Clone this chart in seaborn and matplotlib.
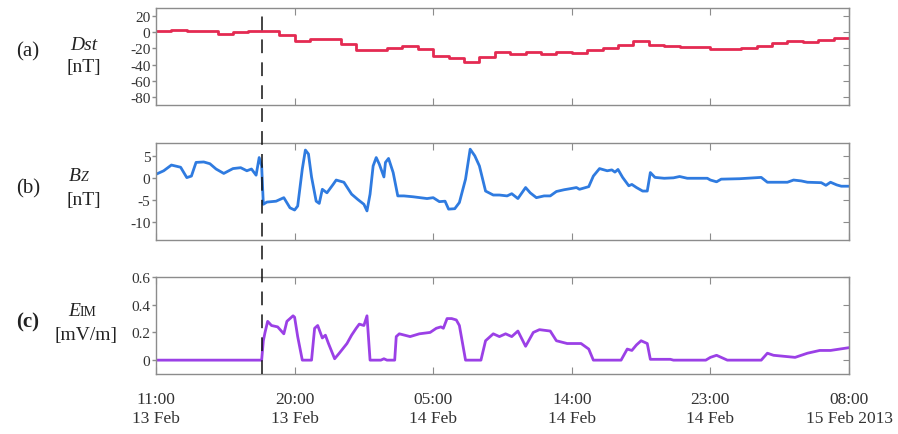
import matplotlib
matplotlib.use("Agg")
import matplotlib.pyplot as plt
import matplotlib.transforms as mtransforms
from matplotlib.lines import Line2D
import seaborn as sns
import pandas as pd

# Hours after 11:00 UT, 13 Feb 2013
dst_hours = list(range(0, 46))
dst = [2, 3, 1, 1, -2, 0, 2, 2, -4, -11, -8, -8, -15, -22, -22, -19, -17, -21,
       -29, -32, -37, -30, -24, -27, -24, -27, -25, -26, -22, -19, -16, -11,
       -16, -17, -18, -18, -21, -21, -19, -17, -13, -11, -12, -9, -7, -7]

bz_hours = [0, 0.5, 1.0, 1.6, 2.0, 2.3, 2.6, 3.1, 3.5, 3.9,
            4.4, 5.0, 5.5, 5.9, 6.2, 6.5, 6.7, 6.86, 6.97, 7.2,
            7.8, 8.3, 8.7, 9.0, 9.2, 9.5, 9.7, 9.9, 10.1, 10.4,
            10.6, 10.8, 11.1, 11.5, 11.7, 12.2, 12.7, 13.1, 13.5, 13.7,
            13.9, 14.1, 14.3, 14.5, 14.8, 14.9, 15.1, 15.4, 15.7, 16.1,
            16.7, 17.6, 18.0, 18.4, 18.77, 19.0, 19.4, 19.7, 20.1, 20.4,
            20.7, 21.0, 21.4, 21.9, 22.3, 22.8, 23.1, 23.5, 24.0, 24.3,
            24.7, 25.2, 25.6, 26.0, 26.5, 27.0, 27.3, 27.5, 28.1, 28.4,
            28.8, 29.3, 29.6, 29.8, 30.0, 30.3, 30.7, 30.9, 31.2, 31.6,
            31.9, 32.1, 32.4, 33.0, 33.6, 34.0, 34.5, 35.8, 36.0, 36.4,
            36.7, 37.9, 39.3, 39.7, 41.0, 41.4, 41.9, 42.3, 43.2, 43.5,
            43.8, 44.2, 44.5, 45.0]
bz = [0.9, 1.7, 3.0, 2.5, 0.15, 0.5, 3.6, 3.7, 3.3, 2.1,
      1.1, 2.2, 2.4, 1.7, 2.1, 0.7, 4.7, 2.8, -5.9, -5.4,
      -5.2, -4.4, -6.7, -7.2, -6.3, 2.1, 6.4, 5.5, 0.3, -5.2,
      -5.7, -2.5, -3.3, -1.4, -0.4, -0.9, -3.6, -4.8, -5.9, -7.4,
      -3.6, 2.8, 4.7, 3.2, 0.3, 3.6, 4.5, 1.3, -4.0, -4.0,
      -4.2, -4.6, -4.4, -5.3, -5.2, -7.0, -6.9, -5.5, -0.2, 6.6,
      5.1, 2.8, -2.9, -3.8, -3.8, -4.0, -3.5, -4.6, -2.1, -3.3,
      -4.4, -4.0, -4.0, -3.0, -2.6, -2.3, -2.1, -2.5, -1.9, 0.5,
      2.2, 1.7, 1.9, 1.4, 2.0, 0.2, -1.7, -1.4, -2.1, -2.9,
      -2.9, 1.3, 0.2, 0.0, 0.1, 0.4, 0.0, 0.0, -0.4, -0.8,
      -0.2, -0.1, 0.2, -0.9, -0.9, -0.4, -0.6, -0.9, -1.0, -1.6,
      -0.9, -1.5, -1.8, -1.8]

eim_hours = [0, 6.86, 6.97, 7.08, 7.25, 7.5, 7.9, 8.3, 8.5, 8.9,
             9.0, 9.2, 9.5, 10.1, 10.3, 10.5, 10.8, 11.0, 11.2, 11.6,
             11.9, 12.4, 12.7, 13.0, 13.2, 13.5, 13.7, 13.9, 14.6, 14.8,
             15.0, 15.5, 15.6, 15.8, 16.5, 17.1, 17.8, 18.2, 18.5, 18.66,
             18.9, 19.2, 19.5, 19.7, 20.1, 21.1, 21.4, 21.9, 22.3, 22.7,
             23.1, 23.5, 24.0, 24.5, 24.9, 25.6, 26.0, 26.7, 27.3, 27.6,
             28.1, 28.4, 30.2, 30.6, 30.9, 31.2, 31.5, 31.9, 32.1, 33.4,
             33.6, 35.7, 36.0, 36.4, 37.1, 39.3, 39.7, 40.1, 41.5, 42.3,
             43.1, 43.8, 44.4, 45.0]
eim = [0, 0, 0.14, 0.20, 0.28, 0.25, 0.24, 0.19, 0.28, 0.32,
       0.31, 0.17, 0, 0, 0.23, 0.25, 0.16, 0.18, 0.12, 0.01,
       0.05, 0.12, 0.18, 0.23, 0.26, 0.25, 0.32, 0, 0, 0.01,
       0, 0, 0.17, 0.19, 0.17, 0.19, 0.20, 0.23, 0.24, 0.23,
       0.30, 0.30, 0.29, 0.25, 0, 0, 0.14, 0.19, 0.17, 0.19,
       0.17, 0.21, 0.10, 0.20, 0.22, 0.21, 0.14, 0.12, 0.12, 0.12,
       0.08, 0, 0, 0.08, 0.07, 0.11, 0.14, 0.12, 0.006, 0.006,
       0, 0, 0.02, 0.035, 0, 0, 0.05, 0.035, 0.02, 0.05,
       0.07, 0.07, 0.08, 0.09]

shock_hour = 6.88
x_ticks = [0, 9, 18, 27, 36, 45]
x_labels = ["11:00\n13 Feb", "20:00\n13 Feb", "05:00\n14 Feb",
            "14:00\n14 Feb", "23:00\n14 Feb", "08:00\n15 Feb 2013"]

dst_ticks = [20, 0, -20, -40, -60, -80]
bz_ticks = [5, 0, -5, -10]
eim_ticks = [0, 0.2, 0.4, 0.6]
eim_tick_labels = ["0", "0.2", "0.4", "0.6"]

sns.set_style("white")
plt.rcParams['font.family'] = ['Liberation Serif', 'DejaVu Serif']
plt.rcParams['axes.unicode_minus'] = False

W, H = 898, 435
fig = plt.figure(figsize=(W / 100, H / 100), dpi=100)

GRAY = "#8c8c8c"
TXT = "#333333"


def px_axes(top, bottom, left=156, right=849):
    return fig.add_axes([left / W, 1 - bottom / H, (right - left) / W, (bottom - top) / H])


ax_a = px_axes(9, 106)
ax_b = px_axes(144, 241)
ax_c = px_axes(278, 375)

dst_df = pd.DataFrame({"hour": dst_hours, "dst": dst})
bz_df = pd.DataFrame({"hour": bz_hours, "bz": bz})
eim_df = pd.DataFrame({"hour": eim_hours, "eim": eim})

sns.lineplot(data=dst_df, x="hour", y="dst", ax=ax_a, color="#e42a52", lw=2.0,
             drawstyle="steps-post")
sns.lineplot(data=bz_df, x="hour", y="bz", ax=ax_b, color="#2f7be0", lw=2.0)
sns.lineplot(data=eim_df, x="hour", y="eim", ax=ax_c, color="#9b40e6", lw=2.0)

ax_a.set_ylim(-90, 30)
ax_a.set_yticks(dst_ticks)
ax_b.set_ylim(-14, 8)
ax_b.set_yticks(bz_ticks)
ax_c.set_ylim(-0.1, 0.6)
ax_c.set_yticks(eim_ticks)
ax_c.set_yticklabels(eim_tick_labels)

for ax in (ax_a, ax_b, ax_c):
    ax.set_xlim(0, 45)
    ax.set_xticks(x_ticks)
    ax.set_xlabel("")
    ax.set_ylabel("")
    for sp in ax.spines.values():
        sp.set_visible(True)
        sp.set_color(GRAY)
        sp.set_linewidth(1.0)
    ax.tick_params(axis="x", direction="in", top=True, bottom=True, length=5,
                   color=GRAY, labelbottom=False)
    ax.tick_params(axis="y", direction="out", left=True, length=3, width=1,
                   color=GRAY, pad=1, labelsize=11, labelcolor=TXT)
    # inward ticks on the right side
    sec = ax.secondary_yaxis("right")
    sec.set_yticks(ax.get_yticks())
    sec.tick_params(direction="in", length=4, color=GRAY, labelright=False)
    sec.spines["right"].set_color(GRAY)

ax_c.tick_params(axis="x", labelbottom=True, labelsize=12.5, labelcolor=TXT, pad=12)
ax_c.set_xticklabels(x_labels, linespacing=1.3)

# dashed line marking the shock arrival, across all panels
trans = mtransforms.blended_transform_factory(ax_c.transData, fig.transFigure)
y0 = ax_c.get_position().y0
y1 = ax_a.get_position().y1
fig.add_artist(Line2D([shock_hour, shock_hour], [y0, y1], transform=trans,
                      color="#111111", lw=1.1, linestyle=(0, (9, 6))))


def ftext(x, y, s, **kw):
    fig.text(x / W, 1 - y / H, s, **kw)


lab = dict(color="#222222")
ftext(28, 52, "(a)", fontsize=15, ha="center", va="center", **lab)
ftext(84, 45, "Dst", fontsize=14, style="italic", ha="center", va="center", **lab)
ftext(84, 68, "[nT]", fontsize=14, ha="center", va="center", **lab)

ftext(28, 189, "(b)", fontsize=15, ha="center", va="center", **lab)
ftext(81, 181, "B", fontsize=14, style="italic", ha="right", va="baseline", **lab)
ftext(81, 181, "Z", fontsize=10, style="italic", ha="left", va="baseline", **lab)
ftext(84, 201, "[nT]", fontsize=14, ha="center", va="center", **lab)

ftext(28, 322, "(c)", fontsize=15, fontweight="bold", ha="center", va="center", **lab)
ftext(80, 316, "E", fontsize=14, style="italic", ha="right", va="baseline", **lab)
ftext(80, 316, "IM", fontsize=10, ha="left", va="baseline", **lab)
ftext(86, 336, "[mV/m]", fontsize=14, ha="center", va="center", **lab)

fig.savefig("out.png", dpi=100)
